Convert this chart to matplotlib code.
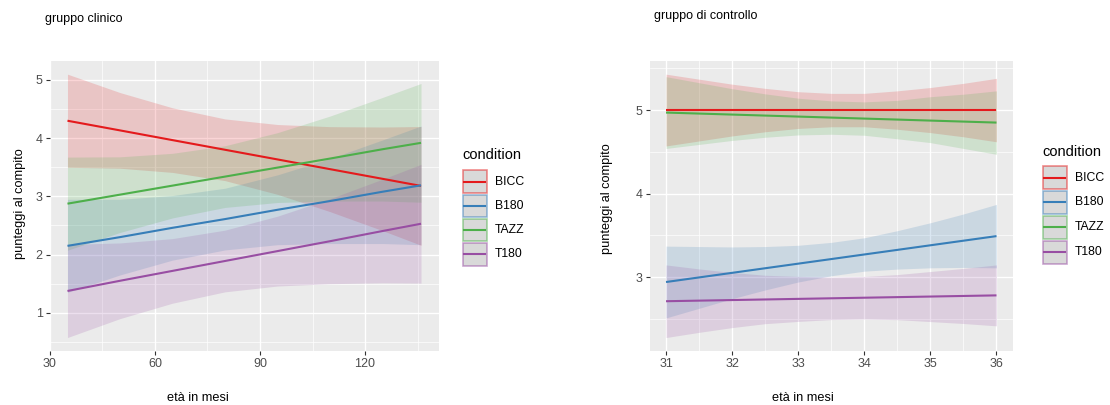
import numpy as np
import matplotlib
matplotlib.use("Agg")
import matplotlib.pyplot as plt
from matplotlib.patches import Rectangle
from matplotlib.lines import Line2D

plt.rcParams['font.family'] = ['Liberation Sans', 'DejaVu Sans']

# ---------------- data ----------------
conditions = ["BICC", "B180", "TAZZ", "T180"]
colors = ["#E41A1C", "#377EB8", "#4DAF4A", "#984EA3"]

# gruppo clinico (età 35-136 mesi)
x_cl = [35, 50, 65, 80, 95, 110, 125, 136]
fit_cl_bicc = [4.30, 4.134, 3.967, 3.801, 3.635, 3.468, 3.302, 3.18]
hi_cl_bicc = [5.10, 4.784, 4.522, 4.331, 4.235, 4.198, 4.192, 4.20]
lo_cl_bicc = [3.50, 3.484, 3.412, 3.271, 3.035, 2.738, 2.412, 2.16]
fit_cl_b180 = [2.15, 2.30, 2.46, 2.61, 2.77, 2.92, 3.08, 3.19]
hi_cl_b180 = [2.95, 2.95, 3.015, 3.14, 3.37, 3.65, 3.97, 4.21]
lo_cl_b180 = [1.35, 1.65, 1.905, 2.08, 2.17, 2.19, 2.19, 2.17]
fit_cl_tazz = [2.875, 3.03, 3.185, 3.34, 3.495, 3.65, 3.81, 3.92]
hi_cl_tazz = [3.675, 3.68, 3.74, 3.87, 4.095, 4.38, 4.70, 4.94]
lo_cl_tazz = [2.075, 2.38, 2.63, 2.81, 2.895, 2.92, 2.92, 2.90]
fit_cl_t180 = [1.375, 1.55, 1.72, 1.89, 2.06, 2.23, 2.405, 2.53]
hi_cl_t180 = [2.175, 2.20, 2.275, 2.42, 2.66, 2.96, 3.295, 3.55]
lo_cl_t180 = [0.575, 0.90, 1.165, 1.36, 1.46, 1.50, 1.515, 1.51]

# gruppo di controllo (età 31-36 mesi)
x_ct = [31, 31.5, 32, 32.5, 33, 33.5, 34, 34.5, 35, 35.5, 36]
fit_ct_bicc = [5.0, 5.0, 5.0, 5.0, 5.0, 5.0, 5.0, 5.0, 5.0, 5.0, 5.0]
hi_ct_bicc = [5.43, 5.37, 5.31, 5.26, 5.22, 5.20, 5.20, 5.23, 5.27, 5.32, 5.38]
lo_ct_bicc = [4.57, 4.63, 4.69, 4.74, 4.78, 4.80, 4.80, 4.77, 4.73, 4.68, 4.62]
fit_ct_b180 = [2.94, 2.995, 3.05, 3.105, 3.16, 3.215, 3.27, 3.325, 3.38, 3.435, 3.49]
hi_ct_b180 = [3.37, 3.365, 3.36, 3.365, 3.38, 3.415, 3.47, 3.555, 3.65, 3.755, 3.87]
lo_ct_b180 = [2.51, 2.625, 2.74, 2.845, 2.94, 3.015, 3.07, 3.095, 3.11, 3.115, 3.11]
fit_ct_tazz = [4.97, 4.958, 4.946, 4.934, 4.922, 4.91, 4.898, 4.886, 4.874, 4.862, 4.85]
hi_ct_tazz = [5.40, 5.328, 5.256, 5.194, 5.142, 5.11, 5.098, 5.116, 5.16, 5.19, 5.23]
lo_ct_tazz = [4.54, 4.588, 4.636, 4.674, 4.702, 4.71, 4.698, 4.656, 4.61, 4.54, 4.47]
fit_ct_t180 = [2.71, 2.717, 2.724, 2.731, 2.738, 2.745, 2.752, 2.759, 2.766, 2.773, 2.78]
hi_ct_t180 = [3.145, 3.097, 3.054, 3.021, 3.008, 3.0, 3.007, 3.029, 3.066, 3.103, 3.145]
lo_ct_t180 = [2.275, 2.337, 2.394, 2.441, 2.468, 2.49, 2.497, 2.489, 2.466, 2.443, 2.415]

x_ticks_cl = [30, 60, 90, 120]
y_ticks_cl = [1, 2, 3, 4, 5]
x_ticks_ct = [31, 32, 33, 34, 35, 36]
y_ticks_ct = [3, 4, 5]

title_cl = "gruppo clinico"
title_ct = "gruppo di controllo"
xlabel = "età in mesi"
ylabel = "punteggi al compito"
legend_title = "condition"

# ---------------- figure ----------------
W, H = 1110, 405
fig = plt.figure(figsize=(W / 100, H / 100), dpi=100)
fig.patch.set_facecolor("white")

BG = "#EBEBEB"
TXT = "#4D4D4D"


def px_rect(l, r, t, b):
    return [l / W, 1 - b / H, (r - l) / W, (b - t) / H]


def style_axis(ax, xt, yt, xlim, ylim, xminor, yminor):
    ax.set_facecolor(BG)
    for s in ax.spines.values():
        s.set_visible(False)
    ax.set_xlim(*xlim)
    ax.set_ylim(*ylim)
    ax.set_xticks(xt)
    ax.set_yticks(yt)
    ax.set_xticks(xminor, minor=True)
    ax.set_yticks(yminor, minor=True)
    ax.grid(which="major", color="white", linewidth=1.0)
    ax.grid(which="minor", color="white", linewidth=0.5)
    ax.set_axisbelow(True)
    ax.tick_params(which="major", length=2.6, width=0.8, color="#333333",
                   labelcolor=TXT, labelsize=9, pad=2.5)
    ax.tick_params(which="minor", length=0)


def expand(lo_lists, hi_lists):
    lo = min(min(l) for l in lo_lists)
    hi = max(max(h) for h in hi_lists)
    r = hi - lo
    return lo - 0.05 * r, hi + 0.05 * r


def draw_panel(ax, x, fits, his, los):
    for f, h, l, c in zip(fits, his, los, colors):
        ax.fill_between(x, l, h, color=c, alpha=0.18, linewidth=0)
    for f, c in zip(fits, colors):
        ax.plot(x, f, color=c, linewidth=1.5, solid_capstyle="butt")


# ---- left panel ----
ax1 = fig.add_axes(px_rect(49.8, 438.7, 61, 350.7))
xr = max(x_cl) - min(x_cl)
xl1 = (min(x_cl) - 0.05 * xr, max(x_cl) + 0.05 * xr)
yl1 = expand([lo_cl_bicc, lo_cl_b180, lo_cl_tazz, lo_cl_t180],
             [hi_cl_bicc, hi_cl_b180, hi_cl_tazz, hi_cl_t180])
style_axis(ax1, x_ticks_cl, y_ticks_cl, xl1, yl1,
           [45, 75, 105, 135], [0.5, 1.5, 2.5, 3.5, 4.5])
draw_panel(ax1, x_cl,
           [fit_cl_bicc, fit_cl_b180, fit_cl_tazz, fit_cl_t180],
           [hi_cl_bicc, hi_cl_b180, hi_cl_tazz, hi_cl_t180],
           [lo_cl_bicc, lo_cl_b180, lo_cl_tazz, lo_cl_t180])

# ---- right panel ----
ax2 = fig.add_axes(px_rect(649.5, 1013, 61, 350.7))
xr = max(x_ct) - min(x_ct)
xl2 = (min(x_ct) - 0.05 * xr, max(x_ct) + 0.05 * xr)
yl2 = expand([lo_ct_bicc, lo_ct_b180, lo_ct_tazz, lo_ct_t180],
             [hi_ct_bicc, hi_ct_b180, hi_ct_tazz, hi_ct_t180])
style_axis(ax2, x_ticks_ct, y_ticks_ct, xl2, yl2,
           [31.5, 32.5, 33.5, 34.5, 35.5], [2.5, 3.5, 4.5, 5.5])
draw_panel(ax2, x_ct,
           [fit_ct_bicc, fit_ct_b180, fit_ct_tazz, fit_ct_t180],
           [hi_ct_bicc, hi_ct_b180, hi_ct_tazz, hi_ct_t180],
           [lo_ct_bicc, lo_ct_b180, lo_ct_tazz, lo_ct_t180])


# ---- texts ----
def ftext(x, y, s, **kw):
    fig.text(x / W, 1 - y / H, s, **kw)


ftext(45, 19, title_cl, fontsize=9, color="black", ha="left", va="center")
ftext(654, 16, title_ct, fontsize=9, color="black", ha="left", va="center")
ftext(197.5, 398, xlabel, fontsize=9.2, color="black", ha="center", va="center")
ftext(803, 398, xlabel, fontsize=9.2, color="black", ha="center", va="center")
ftext(20, 204, ylabel, fontsize=9.2, color="black", ha="center", va="center", rotation=90)
ftext(607, 199, ylabel, fontsize=9.2, color="black", ha="center", va="center", rotation=90)


# ---- legends ----
def legend(x0, ty, rows):
    ftext(x0, ty, legend_title, fontsize=10.5, color="black", ha="left", va="center")
    kw, kh = 24, 22.5
    for (yc, name, c) in zip(rows, conditions, colors):
        rect = Rectangle((x0 / W, 1 - (yc + kh / 2) / H), kw / W, kh / H,
                         transform=fig.transFigure, facecolor="#D9D9D9",
                         edgecolor=matplotlib.colors.to_rgba(c, 0.5), linewidth=1.2)
        fig.add_artist(rect)
        ln = Line2D([(x0 + 1.5) / W, (x0 + kw - 1.5) / W], [1 - yc / H, 1 - yc / H],
                    transform=fig.transFigure, color=c, linewidth=1.5)
        fig.add_artist(ln)
        ftext(x0 + kw + 8.5, yc, name, fontsize=8.8, color="black", ha="left", va="center")


legend(462.7, 155, [181.7, 206, 230, 254.3])
legend(1042.7, 151.7, [177.7, 202.3, 227.3, 252.3])

fig.savefig("out.png", dpi=100, facecolor="white")
